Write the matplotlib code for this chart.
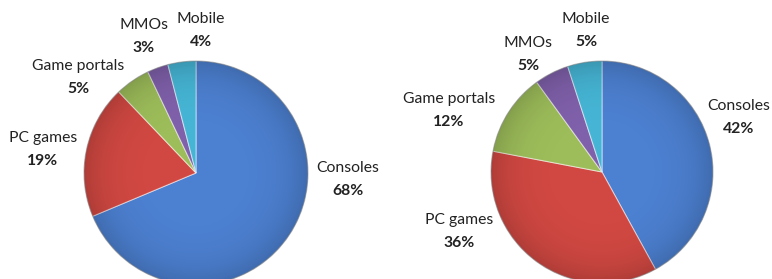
import numpy as np
import matplotlib.pyplot as plt
from matplotlib.patches import Circle

# data
categories = ['Consoles', 'PC games', 'Game portals', 'MMOs', 'Mobile']
left_share = [68, 19, 5, 3, 4]
right_share = [42, 36, 12, 5, 5]

colors = ['#4c80d0', '#d14842', '#9dbd5a', '#7f60aa', '#46b5d5']

# label anchor positions in pixels (name line, percent line below)
left_label_pos = [(348, 168), (43, 138), (78, 66), (144, 25), (201, 19)]
right_label_pos = [(739, 106), (459, 220), (449, 99), (528, 43), (586, 19)]

W, H = 772, 279
fig = plt.figure(figsize=(W / 100, H / 100), dpi=100)
ax = fig.add_axes([0, 0, 1, 1])

font = 'Lato'


def draw_pie(values, center, radius, label_pos):
    # y axis runs downwards (pixel coords), so -90 is the top and
    # counterclock=True turns clockwise on screen
    ax.pie(values, colors=colors, startangle=-90, counterclock=True,
           center=center, radius=radius, frame=True,
           wedgeprops=dict(edgecolor=(1, 1, 1, 0.5), linewidth=0.8))
    # radial shading, slightly darker at the rim
    n = 200
    yy, xx = np.mgrid[-1:1:n * 1j, -1:1:n * 1j]
    rr = np.sqrt(xx ** 2 + yy ** 2)
    shade = np.zeros((n, n, 4))
    shade[..., 3] = np.clip(rr, 0, 1) ** 5 * 0.16
    im = ax.imshow(shade, extent=(center[0] - radius, center[0] + radius,
                                  center[1] + radius, center[1] - radius),
                   zorder=3, interpolation='bilinear')
    im.set_clip_path(Circle(center, radius, transform=ax.transData))
    ax.add_patch(Circle(center, radius, fill=False, edgecolor=(0, 0, 0, 0.25),
                        linewidth=0.8, zorder=4))
    for name, v, (x, y) in zip(categories, values, label_pos):
        ax.text(x, y, name, ha='center', va='center', fontsize=11.3,
                family=font, color='#222222')
        ax.text(x, y + 23, f'{v}%', ha='center', va='center',
                fontsize=11.3, family=font, fontweight='bold', color='#222222')


draw_pie(left_share, (196, 173), 112, left_label_pos)
draw_pie(right_share, (602, 172), 111, right_label_pos)

ax.set_xlim(0, W)
ax.set_ylim(H, 0)
ax.set_aspect('equal')
ax.axis('off')

fig.savefig('out.png', dpi=100)
